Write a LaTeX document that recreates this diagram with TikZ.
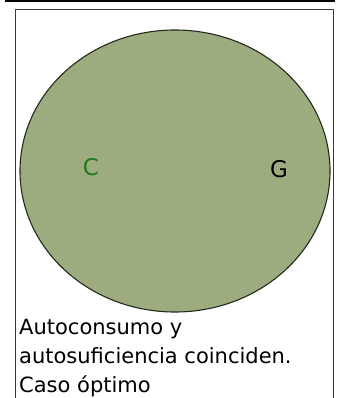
\documentclass[tikz,border=0pt]{standalone}
\usepackage{fontspec}
\setmainfont{DejaVu Sans}
\usepackage{xcolor}
\definecolor{blobc}{HTML}{9DAC7F}
\definecolor{edgec}{HTML}{222A1C}
\definecolor{cgreen}{HTML}{1E7A1E}
\definecolor{framec}{HTML}{3A3A3A}
\usetikzlibrary{positioning}
\tikzset{
  blob/.style={draw=edgec,line width=1.1pt,fill=blobc},
  tag/.style={font=\fontsize{23}{23}\selectfont,inner sep=0pt},
  caption/.style={font=\fontsize{21}{29}\selectfont,align=left,anchor=north west,inner sep=0pt},
  frame/.style={draw=framec,line width=0.8pt},
}
\begin{document}
\begin{tikzpicture}[x=1pt,y=-1pt]
  \useasboundingbox (0,0) rectangle (341,398);
  \draw[line width=2pt] (5,1) -- (335,1);
  \draw[frame] (15,402) -- (15,9.5) -- (333,9.5) -- (333,402);
  \draw[blob] (175,171) ellipse [x radius=155,y radius=141];
  \node[tag,text=cgreen] (c) at (91,167) {C};
  \node[tag] (g) at (279,169) {G};
  \node[caption] (txt) at (19,318.5) {Autoconsumo y\\autosuficiencia coinciden.\\Caso óptimo};
\end{tikzpicture}
\end{document}
